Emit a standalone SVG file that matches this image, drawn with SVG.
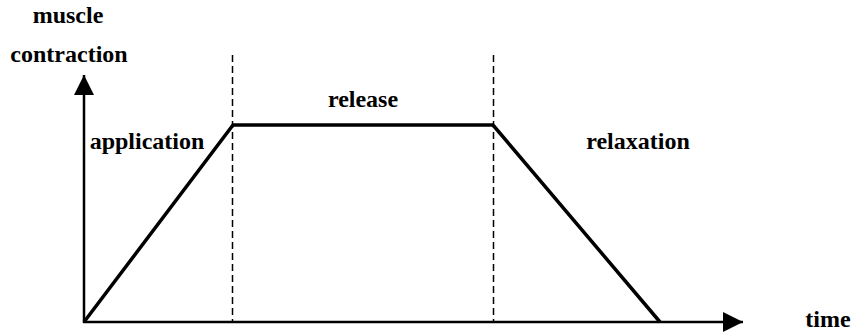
<svg xmlns="http://www.w3.org/2000/svg" width="854" height="334" viewBox="0 0 854 334">
  <style>
    .lbl { font-family: "Liberation Serif", "Times New Roman", serif; font-weight: bold; font-size: 24px; fill: #000; }
    .axis { stroke: #000; stroke-width: 2.5; fill: none; }
    .curve { stroke: #000; stroke-width: 3.5; fill: none; stroke-linejoin: miter; }
    .guide { stroke: #000; stroke-width: 1.5; stroke-dasharray: 7 4; fill: none; }
  </style>
  <defs>
    <marker id="arrow" viewBox="0 0 20 20" refX="20" refY="10" markerWidth="20" markerHeight="20" markerUnits="userSpaceOnUse" orient="auto">
      <path d="M0,0 L20,10 L0,20 Z" fill="#000"/>
    </marker>
  </defs>
  <rect width="854" height="334" fill="#fff"/>

  <g id="axes">
    <line class="axis" x1="84" y1="323" x2="84" y2="75" marker-end="url(#arrow)"/>
    <line class="axis" x1="83" y1="322" x2="743" y2="322" marker-end="url(#arrow)"/>
  </g>

  <g id="guides">
    <line class="guide" x1="232.5" y1="55" x2="232.5" y2="322"/>
    <line class="guide" x1="493.5" y1="55" x2="493.5" y2="322"/>
  </g>

  <g id="connectors">
    <polyline class="curve" points="84,322 233,125 493,125 660,322"/>
  </g>

  <g id="labels">
    <text class="lbl" x="68" y="23" text-anchor="middle">muscle</text>
    <text class="lbl" x="69" y="62" text-anchor="middle">contraction</text>
    <text class="lbl" x="147" y="149" text-anchor="middle">application</text>
    <text class="lbl" x="363" y="107" text-anchor="middle">release</text>
    <text class="lbl" x="638" y="149" text-anchor="middle">relaxation</text>
    <text class="lbl" x="828" y="327" text-anchor="middle">time</text>
  </g>
</svg>
